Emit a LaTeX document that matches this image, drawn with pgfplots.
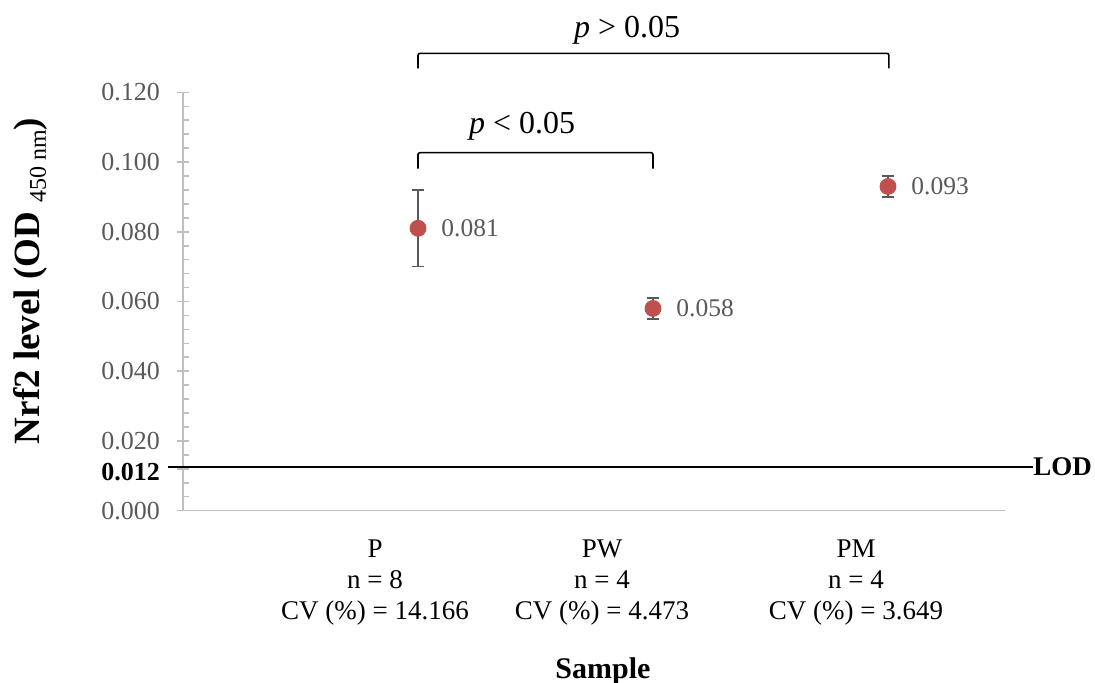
\documentclass[border=0pt]{standalone}
\usepackage{fontspec}
\setmainfont{Liberation Serif}
\usepackage{pgfplots}
\pgfplotsset{compat=1.18}
\definecolor{ptred}{HTML}{C0504D}
\definecolor{axgray}{HTML}{BFBFBF}
\definecolor{txtgray}{HTML}{595959}
\definecolor{errgray}{HTML}{595959}
\begin{document}
\begin{tikzpicture}
\begin{axis}[
  name=ax,
  scale only axis,
  width=410bp, height=208.5bp,
  xmin=0, xmax=3.5, ymin=0, ymax=0.12,
  clip=false,
  axis lines=left,
  axis line style={-, draw=axgray, line width=0.8bp},
  xtick={0.817,1.783,2.864},
  xticklabels={{P\\n = 8\\CV (\%) = 14.166},{PW\\n = 4\\CV (\%) = 4.473},{PM\\n = 4\\CV (\%) = 3.649}},
  x tick style={draw=none},
  xticklabel style={align=center, font=\fontsize{13.5}{15.5}\selectfont, text=black, yshift=-11bp},
  ytick={0,0.02,0.04,0.06,0.08,0.1,0.12},
  minor y tick num=4,
  scaled y ticks=false,
  y tick style={draw=axgray, line width=0.8bp},
  tick align=inside,
  major tick length=6bp,
  minor tick length=3bp,
  every major tick/.append style={xshift=-3bp},
  yticklabel style={/pgf/number format/.cd, fixed, fixed zerofill, precision=3, assume math mode=true, /tikz/.cd, font=\fontsize{13}{15}\selectfont, text=txtgray, xshift=-8bp},
  extra y ticks={0.012},
  extra y tick style={tick style={draw=none}, yticklabel style={text=black, font=\fontsize{13}{15}\selectfont\bfseries, yshift=-1.5bp}},
]
\coordinate (bbsw) at (axis cs:-0.779,-0.0492);
\coordinate (bbne) at (axis cs:3.881,0.1465);
% LOD line
\draw[black, line width=1bp] (axis cs:-0.064,0.0126) -- (axis cs:3.617,0.0126);
\node[anchor=west, inner sep=0, font=\fontsize{13.5}{15}\selectfont\bfseries] at (axis cs:3.617,0.0126) {LOD};
% data
\addplot[only marks, mark=*, mark size=4bp, color=ptred,
  error bars/.cd, y dir=both, y explicit,
  error bar style={errgray, line width=0.8bp},
  error mark options={rotate=90, mark size=3bp, errgray, line width=0.8bp},
  ] coordinates {
  (1,0.081) +- (0,0.011)
  (2,0.058) +- (0,0.003)
  (3,0.093) +- (0,0.003)
};
\addplot[only marks, mark=none, point meta=y,
  nodes near coords={\pgfmathprintnumber[fixed,fixed zerofill,precision=3,assume math mode=true]{\pgfplotspointmeta}},
  nodes near coords style={anchor=west, inner sep=0, xshift=11.5bp, font=\fontsize{12.75}{15}\selectfont, text=txtgray},
  ] coordinates {(1,0.081) (2,0.058) (3,0.093)};
% brackets
\draw[black, line width=0.8bp, rounded corners=1bp] (axis cs:1,0.0981) -- (axis cs:1,0.1027) -- (axis cs:2,0.1027) -- (axis cs:2,0.0981);
\draw[black, line width=0.8bp, rounded corners=1bp] (axis cs:1,0.1269) -- (axis cs:1,0.1312) -- (axis cs:3.004,0.1312) -- (axis cs:3.004,0.1269);
\node[anchor=base, inner sep=0, font=\fontsize{16}{18}\selectfont] at (axis cs:1.443,0.1082) {\textit{p} < 0.05};
\node[anchor=base, inner sep=0, font=\fontsize{16}{18}\selectfont] at (axis cs:1.89,0.1358) {\textit{p} > 0.05};
% labels
\node[anchor=base, inner sep=0, font=\fontsize{15}{18}\selectfont\bfseries] at (axis cs:1.787,-0.0481) {Sample};
\node[rotate=90, inner sep=0, font=\fontsize{18.5}{20}\selectfont] at (axis cs:-0.651,0.0659) {\textbf{Nrf2 level (OD }\raisebox{-0.4ex}{\fontsize{12}{14}\selectfont 450 nm}\textbf{)}};
\end{axis}
\pgfresetboundingbox
\path[use as bounding box] (bbsw) rectangle (bbne);
\end{tikzpicture}
\end{document}
